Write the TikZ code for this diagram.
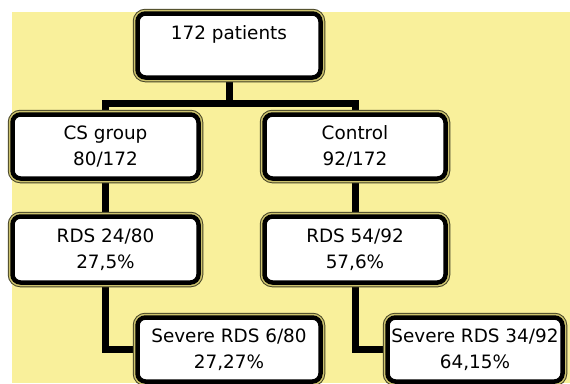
\documentclass[tikz,border=0pt]{standalone}
\usepackage{fontspec}
\setmainfont{DejaVu Sans}
\usetikzlibrary{backgrounds}
\definecolor{bgyellow}{RGB}{249,240,155}
\definecolor{rimdark}{RGB}{70,68,40}
\definecolor{rimband}{RGB}{205,195,110}
\tikzset{
  box/.style={rectangle, rounded corners=8pt, inner sep=0pt, align=center,
    fill=white, draw=black, line width=4.5pt,
    preaction={draw=rimdark, line width=9.5pt},
    preaction={draw=rimband, line width=7.5pt},
    font=\fontsize{18.4}{26}\selectfont},
  conn/.style={draw=black, line width=7pt}
}
\begin{document}
\begin{tikzpicture}[x=1pt,y=-1pt]
\useasboundingbox (0,0) rectangle (570,383);
\node[box, minimum width=183pt, minimum height=64pt] (top) at (229,45.5) {172 patients\\ \mbox{}};
\node[box, minimum width=186pt, minimum height=64pt] (cs) at (105.5,146.5) {CS group\\80/172};
\node[box, minimum width=181pt, minimum height=64pt] (ctrl) at (355,146.5) {Control\\92/172};
\node[box, minimum width=186pt, minimum height=66pt] (rdsl) at (105.5,249.5) {RDS 24/80\\27,5\%};
\node[box, minimum width=181pt, minimum height=66pt] (rdsr) at (355,249.5) {RDS 54/92\\57,6\%};
\node[box, minimum width=183pt, minimum height=64pt] (sevl) at (229,349.5) {Severe RDS 6/80\\27,27\%};
\node[box, minimum width=175pt, minimum height=64pt] (sevr) at (475,349.5) {Severe RDS 34/92\\64,15\%};
\coordinate (bar) at (229,103);
\begin{scope}[on background layer]
  \fill[bgyellow] (12,12) rectangle (570,383);
  \draw[conn] (top) -- (bar);
  \draw[conn] (cs.north) |- (bar) -| (ctrl.north);
  \draw[conn] (cs) -- (rdsl);
  \draw[conn] (ctrl) -- (rdsr);
  \draw[conn] (rdsl.south) |- (sevl.west);
  \draw[conn] (rdsr.south) |- (sevr.west);
\end{scope}
\end{tikzpicture}
\end{document}
